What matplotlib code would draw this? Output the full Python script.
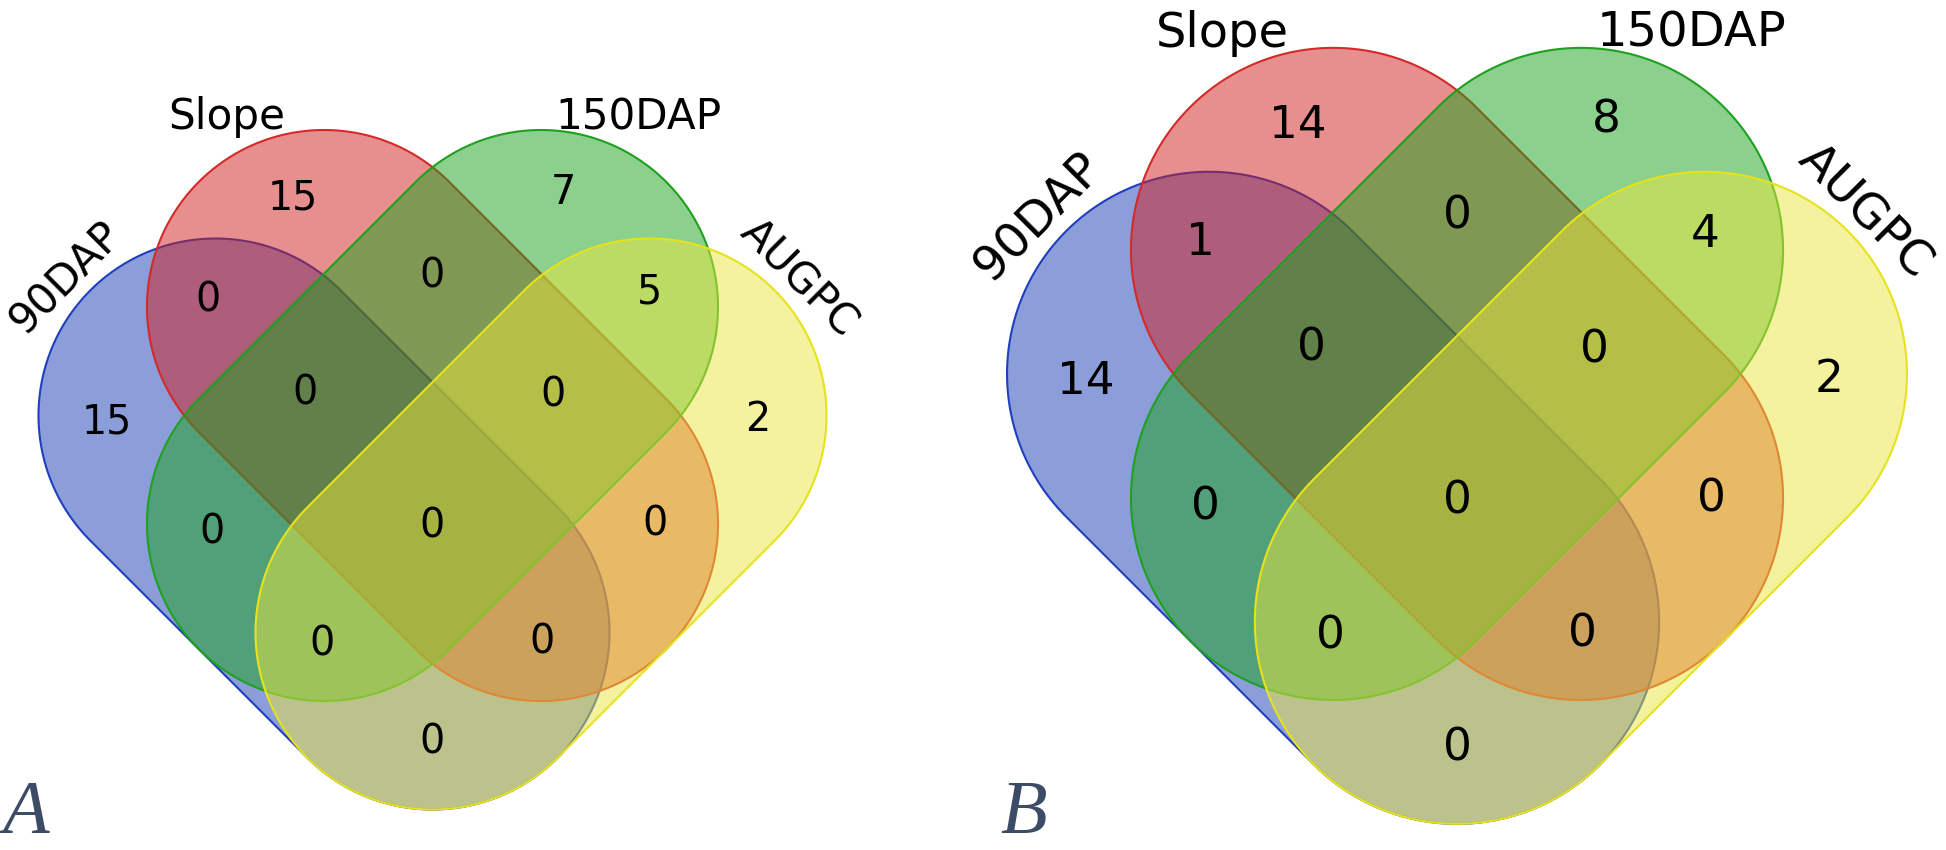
import numpy as np
import matplotlib
matplotlib.use("Agg")
import matplotlib.pyplot as plt
from matplotlib.patches import Polygon

# ---------------- data ----------------
set_names = ["90DAP", "Slope", "150DAP", "AUGPC"]
fill_colors = ["#1b3fb5", "#d01e1e", "#18a31a", "#ebe63e"]
edge_colors = ["#1f3fbf", "#d42a2a", "#1fa01f", "#e6e21c"]

# region keys: which sets (indices into set_names) the region belongs to
region_keys = ["0", "1", "2", "3", "01", "12", "23", "012", "123",
               "02", "13", "0123", "023", "013", "03"]
counts_A = [15, 15, 7, 2, 0, 0, 5, 0, 0, 0, 0, 0, 0, 0, 0]
counts_B = [14, 14, 8, 2, 1, 0, 4, 0, 0, 0, 0, 0, 0, 0, 0]
panel_letters = ["A", "B"]

# ---------------- layout (panel A units, relative to panel centre) --------
R = 177.0       # radius of stadium ends
L = 217.0       # axis offset between end centres (per component)
V = L / 2       # perpendicular shift between parallel sets
label_pos = {
    "0": (-325.5, 115), "1": (-139.5, -109), "2": (130.5, -114), "3": (325.5, 113),
    "01": (-224.5, -7), "12": (0, -30), "23": (217.5, -14),
    "012": (-127.5, 86), "123": (120.5, 88),
    "02": (-220.5, 225), "13": (222.5, 218), "0123": (0, 220),
    "023": (-110.5, 338), "013": (109.5, 336), "03": (0, 436),
}


def stadium(p1, p2, r, n=160):
    p1 = np.asarray(p1, float)
    p2 = np.asarray(p2, float)
    d = p2 - p1
    th = np.arctan2(d[1], d[0])
    a1 = np.linspace(th + np.pi / 2, th + 3 * np.pi / 2, n)
    a2 = np.linspace(th - np.pi / 2, th + np.pi / 2, n)
    pts1 = np.c_[p1[0] + r * np.cos(a1), p1[1] + r * np.sin(a1)]
    pts2 = np.c_[p2[0] + r * np.cos(a2), p2[1] + r * np.sin(a2)]
    return np.vstack([pts1, pts2])


fig = plt.figure(figsize=(19.46, 8.5), dpi=100)
ax = fig.add_axes([0, 0, 1, 1])
ax.set_xlim(0, 1946)
ax.set_ylim(850, 0)
ax.axis("off")


def draw_panel(ox, y0, s, counts, letter, letter_x, side_dx, side_dy):
    r, l, v = R * s, L * s, V * s
    ends = [
        ((ox - l / 2 - v, y0 + v), (ox + l / 2 - v, y0 + l + v)),   # 90DAP blue
        ((ox - l / 2, y0), (ox + l / 2, y0 + l)),                   # Slope red
        ((ox + l / 2, y0), (ox - l / 2, y0 + l)),                   # 150DAP green
        ((ox + l / 2 + v, y0 + v), (ox - l / 2 + v, y0 + l + v)),   # AUGPC yellow
    ]
    for (p1, p2), fc, ec in zip(ends, fill_colors, edge_colors):
        pts = stadium(p1, p2, r)
        ax.add_patch(Polygon(pts, closed=True, facecolor=fc, alpha=0.5,
                             edgecolor="none", zorder=2))
        ax.add_patch(Polygon(pts, closed=True, facecolor="none",
                             edgecolor=ec, lw=1.5, zorder=2))
    fs_num = 28.5 * s
    for key, c in zip(region_keys, counts):
        dx, dy = label_pos[key]
        ax.text(ox + dx * s, y0 + dy * s, str(c), ha="center", va="center",
                fontsize=fs_num, family="DejaVu Sans", color="black", zorder=5)
    fs_lab = 30.3 * s
    ax.text(ox - 205.5 * s, y0 - 178 * s, set_names[1], ha="center",
            va="baseline", fontsize=fs_lab, zorder=5)
    ax.text(ox + 205.5 * s, y0 - 178 * s, set_names[2], ha="center",
            va="baseline", fontsize=fs_lab, zorder=5)
    ax.text(ox - 366.5 * s, y0 - 29 * s, set_names[0], ha="center",
            va="center", rotation=45, rotation_mode="anchor",
            fontsize=fs_lab, zorder=5)
    ax.text(ox + side_dx * s, y0 + side_dy * s, set_names[3], ha="center",
            va="center", rotation=-45, rotation_mode="anchor",
            fontsize=fs_lab, zorder=5)
    ax.text(letter_x, 849, letter, ha="left", va="bottom",
            fontsize=55, family="Liberation Serif", style="italic",
            color="#3c4c66", zorder=5)


draw_panel(432.5, 307, 1.0, counts_A, panel_letters[0], 2, 366.5, -29)
draw_panel(1457, 250, 1.142, counts_B, panel_letters[1], 1000, 357, -34)

fig.savefig("out.png", dpi=100, facecolor="white")
